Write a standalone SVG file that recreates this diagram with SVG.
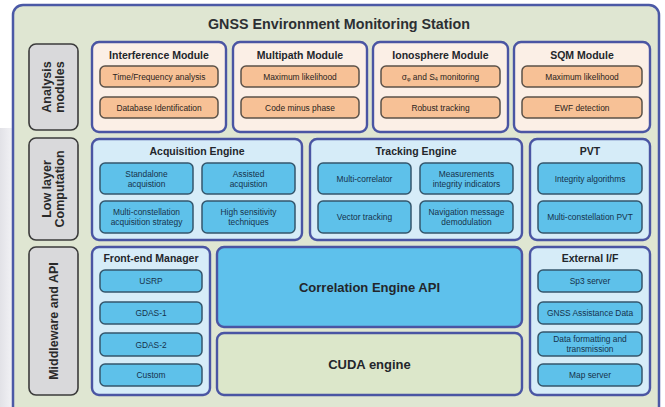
<svg xmlns="http://www.w3.org/2000/svg" width="665" height="407" viewBox="0 0 665 407">
  <defs>
    <linearGradient id="sideFade" x1="0" y1="0" x2="1" y2="0">
      <stop offset="0" stop-color="#e2e2e7"/>
      <stop offset="1" stop-color="#f4f4f7"/>
    </linearGradient>
    <style>
      text { font-family: "Liberation Sans", Arial, sans-serif; fill: #23262b; text-anchor: middle; dominant-baseline: central; }
      .frame { fill: #dfe6d2; stroke: #4b59a6; stroke-width: 2.5; }
      .side { fill: #d9d9db; stroke: #3b3b3b; stroke-width: 1.6; }
      .mod { fill: #fbefe6; stroke: #4a55a3; stroke-width: 2.4; }
      .eng { fill: #d6ecf8; stroke: #4a55a3; stroke-width: 2.4; }
      .orange { fill: #f7c196; stroke: #5b5148; stroke-width: 1.5; }
      .blue { fill: #5ec1ea; stroke: #34566c; stroke-width: 1.5; }
      .api { fill: #5ec1ec; stroke: #4a55a3; stroke-width: 2.4; }
      .cuda { fill: #dce7ca; stroke: #4a55a3; stroke-width: 2.4; }
      .title { font-size: 14px; font-weight: bold; fill: #2c2f33; }
      .sideTxt { font-size: 12.5px; font-weight: bold; fill: #2a2a2a; }
      .head { font-size: 10.5px; font-weight: bold; }
      .item { font-size: 8.4px; fill: #2a2420; }
      .bitem { font-size: 8.4px; fill: #16324a; }
      .big { font-size: 13px; font-weight: bold; }
    </style>
  </defs>

  <!-- page background with faint side shading -->
  <rect x="0" y="0" width="665" height="407" fill="#ffffff"/>
  <path d="M0 128 L14 128 L14 407 L0 407 Z" fill="url(#sideFade)"/>

  <!-- outer station frame -->
  <g id="station">
    <rect class="frame" x="13" y="5" width="646" height="420" rx="10"/>
    <text class="title" x="339" y="24" textLength="262" lengthAdjust="spacingAndGlyphs">GNSS Environment Monitoring Station</text>
  </g>

  <!-- layer labels -->
  <g id="layer-analysis">
    <rect class="side" x="29" y="44" width="49" height="86" rx="7"/>
    <text class="sideTxt" transform="translate(53.5 87) rotate(-90)"><tspan x="0" y="-6.5">Analysis</tspan><tspan x="0" y="6.5">modules</tspan></text>
  </g>
  <g id="layer-low">
    <rect class="side" x="29" y="138" width="49" height="102" rx="7"/>
    <text class="sideTxt" transform="translate(53.5 189) rotate(-90)"><tspan x="0" y="-6.5">Low layer</tspan><tspan x="0" y="6.5">Computation</tspan></text>
  </g>
  <g id="layer-middleware">
    <rect class="side" x="29" y="247" width="49" height="148" rx="7"/>
    <text class="sideTxt" transform="translate(53.5 321) rotate(-90)">Middleware and API</text>
  </g>

  <!-- analysis modules -->
  <g id="interference-module">
    <rect class="mod" x="92" y="42" width="134" height="90" rx="7"/>
    <text class="head" x="159" y="55">Interference Module</text>
    <rect class="orange" x="100" y="66" width="118" height="21" rx="5"/>
    <text class="item" x="159" y="76.5">Time/Frequency analysis</text>
    <rect class="orange" x="100" y="97" width="118" height="21" rx="5"/>
    <text class="item" x="159" y="107.5">Database Identification</text>
  </g>
  <g id="multipath-module">
    <rect class="mod" x="233" y="42" width="134" height="90" rx="7"/>
    <text class="head" x="300" y="55">Multipath Module</text>
    <rect class="orange" x="241" y="66" width="118" height="21" rx="5"/>
    <text class="item" x="300" y="76.5">Maximum likelihood</text>
    <rect class="orange" x="241" y="97" width="118" height="21" rx="5"/>
    <text class="item" x="300" y="107.5">Code minus phase</text>
  </g>
  <g id="ionosphere-module">
    <rect class="mod" x="373" y="42" width="135" height="90" rx="7"/>
    <text class="head" x="440.5" y="55">Ionosphere Module</text>
    <rect class="orange" x="381" y="66" width="119" height="21" rx="5"/>
    <text class="item" x="440.5" y="76.5">σ<tspan font-size="5.5" dy="2">φ</tspan><tspan dy="-2"> and S</tspan><tspan font-size="5.5" dy="2">4</tspan><tspan dy="-2"> monitoring</tspan></text>
    <rect class="orange" x="381" y="97" width="119" height="21" rx="5"/>
    <text class="item" x="440.5" y="107.5">Robust tracking</text>
  </g>
  <g id="sqm-module">
    <rect class="mod" x="514" y="42" width="136" height="90" rx="7"/>
    <text class="head" x="582" y="55">SQM Module</text>
    <rect class="orange" x="522" y="66" width="120" height="21" rx="5"/>
    <text class="item" x="582" y="76.5">Maximum likelihood</text>
    <rect class="orange" x="522" y="97" width="120" height="21" rx="5"/>
    <text class="item" x="582" y="107.5">EWF detection</text>
  </g>

  <!-- low layer computation -->
  <g id="acquisition-engine">
    <rect class="eng" x="92" y="139" width="210" height="101" rx="7"/>
    <text class="head" x="197" y="151">Acquisition Engine</text>
    <rect class="blue" x="100" y="163" width="93" height="31" rx="5"/>
    <text class="bitem" x="146.5" y="178.5"><tspan x="146.5" dy="-5">Standalone</tspan><tspan x="146.5" dy="10">acquistion</tspan></text>
    <rect class="blue" x="202" y="163" width="93" height="31" rx="5"/>
    <text class="bitem" x="248.5" y="178.5"><tspan x="248.5" dy="-5">Assisted</tspan><tspan x="248.5" dy="10">acquistion</tspan></text>
    <rect class="blue" x="100" y="201" width="93" height="32" rx="5"/>
    <text class="bitem" x="146.5" y="217"><tspan x="146.5" dy="-5">Multi-constellation</tspan><tspan x="146.5" dy="10">acquisition strategy</tspan></text>
    <rect class="blue" x="202" y="201" width="93" height="32" rx="5"/>
    <text class="bitem" x="248.5" y="217"><tspan x="248.5" dy="-5">High sensitivity</tspan><tspan x="248.5" dy="10">techniques</tspan></text>
  </g>
  <g id="tracking-engine">
    <rect class="eng" x="310" y="139" width="212" height="101" rx="7"/>
    <text class="head" x="416" y="151">Tracking Engine</text>
    <rect class="blue" x="318" y="163" width="93" height="31" rx="5"/>
    <text class="bitem" x="364.5" y="178.5">Multi-correlator</text>
    <rect class="blue" x="420" y="163" width="93" height="31" rx="5"/>
    <text class="bitem" x="466.5" y="178.5"><tspan x="466.5" dy="-5">Measurements</tspan><tspan x="466.5" dy="10">integrity indicators</tspan></text>
    <rect class="blue" x="318" y="201" width="93" height="32" rx="5"/>
    <text class="bitem" x="364.5" y="217">Vector tracking</text>
    <rect class="blue" x="420" y="201" width="93" height="32" rx="5"/>
    <text class="bitem" x="466.5" y="217"><tspan x="466.5" dy="-5">Navigation message</tspan><tspan x="466.5" dy="10">demodulation</tspan></text>
  </g>
  <g id="pvt">
    <rect class="eng" x="530" y="139" width="120" height="101" rx="7"/>
    <text class="head" x="590" y="151">PVT</text>
    <rect class="blue" x="538" y="163" width="104" height="31" rx="5"/>
    <text class="bitem" x="590" y="178.5">Integrity algorithms</text>
    <rect class="blue" x="538" y="201" width="104" height="32" rx="5"/>
    <text class="bitem" x="590" y="217">Multi-constellation PVT</text>
  </g>

  <!-- middleware and API -->
  <g id="front-end-manager">
    <rect class="eng" x="92" y="247" width="118" height="148" rx="7"/>
    <text class="head" x="151" y="258">Front-end Manager</text>
    <rect class="blue" x="100" y="270" width="102" height="22" rx="5"/>
    <text class="bitem" x="151" y="281">USRP</text>
    <rect class="blue" x="100" y="302" width="102" height="22" rx="5"/>
    <text class="bitem" x="151" y="313">GDAS-1</text>
    <rect class="blue" x="100" y="333" width="102" height="23" rx="5"/>
    <text class="bitem" x="151" y="344.5">GDAS-2</text>
    <rect class="blue" x="100" y="364" width="102" height="22" rx="5"/>
    <text class="bitem" x="151" y="375">Custom</text>
  </g>
  <g id="correlation-engine-api">
    <rect class="api" x="217" y="247" width="305" height="80" rx="7"/>
    <text class="big" x="369.5" y="287">Correlation Engine API</text>
  </g>
  <g id="cuda-engine">
    <rect class="cuda" x="217" y="333" width="305" height="62" rx="7"/>
    <text class="big" x="369.5" y="364">CUDA engine</text>
  </g>
  <g id="external-if">
    <rect class="eng" x="530" y="247" width="120" height="148" rx="7"/>
    <text class="head" x="590" y="258">External I/F</text>
    <rect class="blue" x="538" y="270" width="104" height="22" rx="5"/>
    <text class="bitem" x="590" y="281">Sp3 server</text>
    <rect class="blue" x="538" y="302" width="104" height="22" rx="5"/>
    <text class="bitem" x="590" y="313">GNSS Assistance Data</text>
    <rect class="blue" x="538" y="332" width="104" height="24" rx="5"/>
    <text class="bitem" x="590" y="344"><tspan x="590" dy="-5">Data formatting and</tspan><tspan x="590" dy="10">transmission</tspan></text>
    <rect class="blue" x="538" y="364" width="104" height="22" rx="5"/>
    <text class="bitem" x="590" y="375">Map server</text>
  </g>

  <!-- no connectors are drawn between blocks -->
  <g id="connectors"/>
</svg>
